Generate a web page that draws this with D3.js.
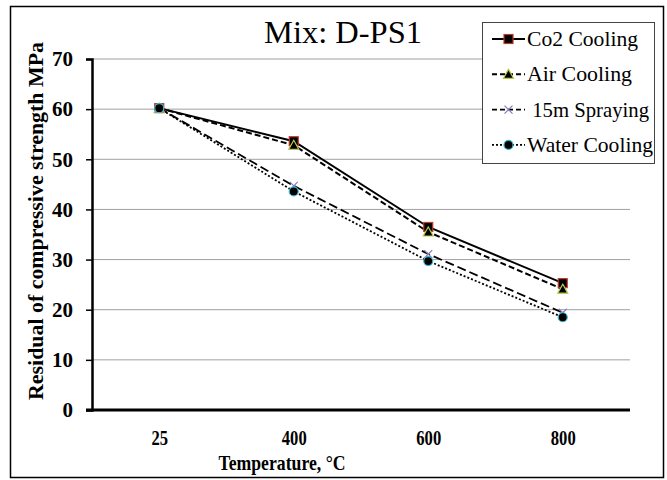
<!DOCTYPE html>
<html>
<head>
<meta charset="utf-8">
<script src="https://cdn.jsdelivr.net/npm/d3@7"></script>
<style>
  body { margin: 0; background: #fff; }
</style>
</head>
<body>
<svg width="667" height="480" font-family="Liberation Serif"></svg>
<script>
// data
var temps = ["25", "400", "600", "800"];
var co2Cooling = [60.2, 53.6, 36.5, 25.3];
var airCooling = [60.2, 52.8, 35.5, 24.1];
var spraying15m = [60.2, 44.7, 31.1, 19.4];
var waterCooling = [60.2, 43.6, 29.7, 18.5];
var yTicks = [0, 10, 20, 30, 40, 50, 60, 70];
var seriesNames = ["Co2 Cooling", "Air Cooling", " 15m Spraying", "Water Cooling"];

var serif = "Liberation Serif";

var series = [
    {name: seriesNames[0], values: co2Cooling, dash: null, width: 2, marker: "square", stroke: "#c0392b", textW: 111},
    {name: seriesNames[1], values: airCooling, dash: "6,3", width: 2, marker: "triangle", stroke: "#b5c94a", textW: 105},
    {name: seriesNames[2], values: spraying15m, dash: "9,4", width: 1.8, marker: "cross", stroke: "#8a7ab8", textW: 122},
    {name: seriesNames[3], values: waterCooling, dash: "2,2", width: 1.8, marker: "circle", stroke: "#3bb7d0", textW: 126}
];

var svg = d3.select("svg");
var width = +svg.attr("width");
var height = +svg.attr("height");

var margin = {left: 92, right: 630, top: 59, bottom: 410};

// outer frame
svg.append("rect")
    .attr("x", 10.5).attr("y", 6.5)
    .attr("width", 653).attr("height", 471)
    .attr("fill", "none")
    .attr("stroke", "#000")
    .attr("stroke-width", 1.5);

var x = d3.scalePoint()
    .domain(temps)
    .range([margin.left, margin.right])
    .padding(0.5);

var y = d3.scaleLinear()
    .domain([0, 70])
    .range([margin.bottom, margin.top]);

// gridlines
svg.append("g")
    .selectAll("line")
    .data(yTicks.filter(d => d > 0))
    .enter()
    .append("line")
    .attr("x1", margin.left)
    .attr("x2", margin.right)
    .attr("y1", d => y(d))
    .attr("y2", d => y(d))
    .attr("stroke", "#a0a0a0")
    .attr("stroke-width", 1);

// y axis
var yAxis = svg.append("g")
    .attr("transform", "translate(" + margin.left + ",0)")
    .call(d3.axisLeft(y).tickValues(yTicks).tickSize(6).tickPadding(13))
    .attr("font-family", serif);
yAxis.select(".domain").attr("stroke", "#000").attr("stroke-width", 2.5);
yAxis.selectAll(".tick line").attr("stroke", "#000").attr("stroke-width", 1.5);
yAxis.selectAll(".tick text")
    .attr("font-size", 21)
    .attr("font-weight", "bold")
    .attr("fill", "#000")
    .attr("textLength", d => String(d).length * 10.5)
    .attr("lengthAdjust", "spacingAndGlyphs");

// x axis
var xAxis = svg.append("g")
    .attr("transform", "translate(0," + margin.bottom + ")")
    .call(d3.axisBottom(x).tickSize(0).tickPadding(20))
    .attr("font-family", serif);
xAxis.select(".domain")
    .attr("d", "M" + (margin.left - 6) + ",0H" + margin.right)
    .attr("stroke", "#000")
    .attr("stroke-width", 3);
xAxis.selectAll(".tick text")
    .attr("font-size", 21)
    .attr("font-weight", "bold")
    .attr("fill", "#000")
    .attr("textLength", d => d.length * 8.3)
    .attr("lengthAdjust", "spacingAndGlyphs");

// axis titles
svg.append("text")
    .attr("transform", "translate(43,221) rotate(-90)")
    .attr("text-anchor", "middle")
    .attr("font-size", 21)
    .attr("font-weight", "bold")
    .attr("textLength", 358)
    .attr("lengthAdjust", "spacingAndGlyphs")
    .text("Residual of compressive strength  MPa");

svg.append("text")
    .attr("x", 282)
    .attr("y", 470)
    .attr("text-anchor", "middle")
    .attr("font-size", 21)
    .attr("font-weight", "bold")
    .attr("textLength", 127)
    .attr("lengthAdjust", "spacingAndGlyphs")
    .text("Temperature, °C");

// title
svg.append("text")
    .attr("x", 343)
    .attr("y", 43)
    .attr("text-anchor", "middle")
    .attr("font-size", 31)
    .attr("textLength", 158)
    .attr("lengthAdjust", "spacingAndGlyphs")
    .text("Mix: D-PS1");

// lines
var line = d3.line()
    .x((d, i) => x(temps[i]))
    .y(d => y(d));

svg.append("g")
    .selectAll("path")
    .data(series)
    .enter()
    .append("path")
    .attr("d", d => line(d.values))
    .attr("fill", "none")
    .attr("stroke", "#000")
    .attr("stroke-width", d => d.width)
    .attr("stroke-dasharray", d => d.dash);

function drawMarker(g, s, cx, cy) {
    if (s.marker === "square") {
        g.append("rect")
            .attr("x", cx - 4.5).attr("y", cy - 4.5)
            .attr("width", 9).attr("height", 9)
            .attr("fill", "#000").attr("stroke", s.stroke).attr("stroke-width", 1.2);
    } else if (s.marker === "triangle") {
        g.append("path")
            .attr("d", "M" + cx + "," + (cy - 5) + "L" + (cx + 5) + "," + (cy + 4) + "L" + (cx - 5) + "," + (cy + 4) + "Z")
            .attr("fill", "#000").attr("stroke", s.stroke).attr("stroke-width", 1.2);
    } else if (s.marker === "cross") {
        g.append("path")
            .attr("d", "M" + (cx - 4) + "," + (cy - 4) + "L" + (cx + 4) + "," + (cy + 4) + "M" + (cx + 4) + "," + (cy - 4) + "L" + (cx - 4) + "," + (cy + 4))
            .attr("fill", "none").attr("stroke", s.stroke).attr("stroke-width", 1.2);
    } else {
        g.append("circle")
            .attr("cx", cx).attr("cy", cy).attr("r", 4.5)
            .attr("fill", "#000").attr("stroke", s.stroke).attr("stroke-width", 1.2);
    }
}

var markers = svg.append("g");
series.forEach(function(s) {
    s.values.forEach(function(v, i) {
        drawMarker(markers, s, x(temps[i]), y(v));
    });
});

// legend
var legend = svg.append("g");
legend.append("rect")
    .attr("x", 482.5).attr("y", 22.5)
    .attr("width", 172).attr("height", 141)
    .attr("fill", "#fff")
    .attr("stroke", "#444")
    .attr("stroke-width", 1);

series.forEach(function(s, i) {
    var ly = 39 + i * 35.3;
    legend.append("line")
        .attr("x1", 492).attr("x2", 525)
        .attr("y1", ly).attr("y2", ly)
        .attr("stroke", "#000")
        .attr("stroke-width", s.width)
        .attr("stroke-dasharray", s.dash ? (s.dash === "2,2" ? "2,2" : "5,3") : null);
    drawMarker(legend, s, 508.5, ly);
    legend.append("text")
        .attr("x", 527)
        .attr("y", ly + 7)
        .attr("font-size", 21)
        .attr("textLength", s.textW)
        .attr("lengthAdjust", "spacingAndGlyphs")
        .attr("xml:space", "preserve")
        .text(s.name);
});
</script>
</body>
</html>
